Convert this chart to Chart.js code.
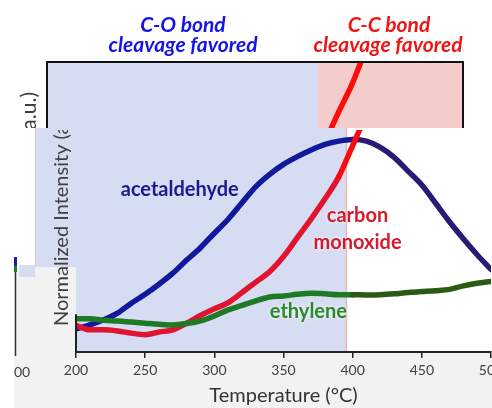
<!DOCTYPE html>
<html><head><meta charset="utf-8">
<script src="https://cdn.jsdelivr.net/npm/chart.js@4.4.1/dist/chart.umd.min.js"></script>
<style>
html,body{margin:0;padding:0;background:#fff;}
#wrap{position:relative;width:492px;height:408px;overflow:hidden;background:#fff;}
#front{position:absolute;left:0;top:0;}
#backWrap{position:absolute;left:0;top:0;width:492px;height:128px;overflow:hidden;}
</style></head><body>
<div id="wrap">
<canvas id="front" width="492" height="408"></canvas>
<div id="backWrap"><canvas id="back" width="492" height="408"></canvas></div>
</div>
<script>
// ---- data ----
const temperatures = [200,210,220,230,240,250,260,270,280,290,300,310,320,330,340,350,360,370,380,390,400,410,420,430,440,450,460,470,480,490,500];
const acetaldehyde = [0.104,0.122,0.145,0.175,0.22,0.26,0.305,0.355,0.414,0.47,0.535,0.598,0.672,0.745,0.80,0.845,0.88,0.91,0.935,0.95,0.957,0.95,0.922,0.877,0.815,0.752,0.67,0.587,0.51,0.438,0.372];
const carbonMonoxide = [0.12,0.10,0.10,0.095,0.085,0.078,0.09,0.10,0.13,0.165,0.195,0.222,0.268,0.315,0.362,0.43,0.515,0.6,0.69,0.79,0.93,1.07,1.2,1.36,null,null,null,null,null,null,null];
const ethylene = [0.15,0.15,0.143,0.14,0.135,0.13,0.125,0.122,0.128,0.14,0.162,0.19,0.21,0.23,0.248,0.252,0.26,0.265,0.262,0.258,0.258,0.257,0.258,0.262,0.268,0.272,0.276,0.282,0.298,0.31,0.318];
const xTickValues = [200,250,300,350,400,450,500];
const splitTemperature = 395.5;
const seriesNames = ['acetaldehyde','carbon monoxide','ethylene'];
const regimeTitles = [['C-O bond','cleavage favored'],['C-C bond','cleavage favored']];
const xTitle = 'Temperature (\u00B0C)';
const yTitle = 'Normalized Intensity (a.u.)';

// ---- styles ----
const BLUE_BG = '#d6dcf2', PINK_BG = '#f4cccc', GRAY = '#f2f2f2';
const pts = arr => temperatures.map((t,i)=>({x:t,y:arr[i]}));
const seg = (c1, c2, at) => ({ borderColor: c => (c.p0.parsed.x >= at ? c2 : c1) });

const frontBg = {
  id:'frontBg',
  beforeDraw(chart){
    const {ctx, chartArea:a, scales:{x}} = chart;
    ctx.save();
    ctx.fillStyle='#fff'; ctx.fillRect(0,0,492,408);
    ctx.fillStyle=GRAY; ctx.fillRect(14,267,478,141);
    ctx.fillStyle=BLUE_BG; ctx.fillRect(35,128,41,139);
    ctx.fillRect(19,265,16,12);
    const sx = x.getPixelForValue(splitTemperature);
    ctx.fillStyle=BLUE_BG; ctx.fillRect(a.left,128,sx-a.left,a.bottom-128);
    ctx.fillStyle='#fff'; ctx.fillRect(sx,128,a.right-sx+2,a.bottom-128);
    ctx.strokeStyle='#f0b4b4'; ctx.lineWidth=1.5;
    ctx.beginPath(); ctx.moveTo(sx,128); ctx.lineTo(sx,a.bottom); ctx.stroke();
    ctx.strokeStyle='#e6c6d2'; ctx.lineWidth=1;
    ctx.beginPath(); ctx.moveTo(35.5,128); ctx.lineTo(35.5,267); ctx.stroke();
    // partial neighbouring panel at far left
    ctx.strokeStyle='#333'; ctx.lineWidth=1.5;
    ctx.beginPath(); ctx.moveTo(15.5,257); ctx.lineTo(15.5,356); ctx.stroke();
    ctx.fillStyle='#1a22a0'; ctx.fillRect(14,257,3,9);
    ctx.fillStyle='#1f7a26'; ctx.fillRect(14,266,3,6);
    ctx.restore();
  },
  afterDraw(chart){
    const {ctx, chartArea:a, scales:{x,y}} = chart;
    ctx.save();
    ctx.strokeStyle='#222'; ctx.lineWidth=2;
    ctx.beginPath(); ctx.moveTo(a.left, y.getPixelForValue(0.17)); ctx.lineTo(a.left, a.bottom+1); ctx.stroke();
    ctx.textAlign='center'; ctx.textBaseline='middle';
    ctx.font='bold 20px Lato';
    ctx.fillStyle='#1a1a8e';
    ctx.fillText(seriesNames[0], x.getPixelForValue(275), y.getPixelForValue(0.73));
    ctx.shadowColor='rgba(255,255,255,0.95)'; ctx.shadowBlur=4;
    ctx.fillStyle='#d41a2c';
    const cx = x.getPixelForValue(403.5), cy = y.getPixelForValue(0.613);
    const parts = seriesNames[1].split(' ');
    ctx.fillText(parts[0], cx, cy);
    ctx.fillText(parts[1], cx, cy+27);
    ctx.fillStyle='#2a8a2a';
    ctx.fillText(seriesNames[2], x.getPixelForValue(368), y.getPixelForValue(0.18));
    ctx.shadowBlur=0;
    // y title (upper part hidden behind the top panel)
    ctx.save();
    ctx.beginPath(); ctx.rect(0,130,492,278); ctx.clip();
    ctx.translate(62,326); ctx.rotate(-Math.PI/2);
    ctx.font='20px Lato'; ctx.fillStyle='#404040'; ctx.textAlign='left';
    ctx.fillText(yTitle,0,0);
    ctx.restore();
    ctx.font='14px Lato'; ctx.fillStyle='#404040'; ctx.textAlign='left';
    ctx.fillText('00',14,372);
    ctx.restore();
  }
};

new Chart(document.getElementById('front'), {
  type:'line',
  data:{datasets:[
    {label:seriesNames[2], data:pts(ethylene), borderColor:'#1f7a26', segment:seg('#1f7a26','#2d5a12',splitTemperature), order:0},
    {label:seriesNames[1], data:pts(carbonMonoxide), borderColor:'#e0142e', segment:seg('#e0142e','#f80a12',385), order:1},
    {label:seriesNames[0], data:pts(acetaldehyde), borderColor:'#10199c', segment:seg('#10199c','#2a1a78',splitTemperature), order:2}
  ]},
  options:{
    responsive:false, animation:false,
    layout:{padding:{left:76,top:130,right:1,bottom:0}},
    elements:{point:{radius:0}, line:{borderWidth:5.5, tension:0.4, cubicInterpolationMode:'monotone', borderCapStyle:'round', borderJoinStyle:'round'}},
    plugins:{legend:{display:false}, tooltip:{enabled:false}},
    scales:{
      x:{type:'linear', min:200, max:500,
        afterBuildTicks:s=>{s.ticks = xTickValues.map(v=>({value:v}));},
        afterFit:s=>{s.height=56; s.paddingLeft=0; s.paddingRight=0;},
        grid:{display:true, drawOnChartArea:false, drawTicks:true, tickLength:6, color:'#222', lineWidth:1.5},
        border:{display:true, color:'#222', width:2},
        ticks:{font:{family:'Lato', size:14}, color:'#404040', padding:4, maxRotation:0, autoSkip:false},
        title:{display:true, text:xTitle, font:{family:'Lato', size:20}, color:'#333', padding:{top:3,bottom:0}}
      },
      y:{display:false, min:0, max:1}
    }
  },
  plugins:[frontBg]
});

const backDeco = {
  id:'backDeco',
  beforeDraw(chart){
    const {ctx, chartArea:a, scales:{x}} = chart;
    const sx = x.getPixelForValue(splitTemperature);
    ctx.save();
    ctx.fillStyle=BLUE_BG; ctx.fillRect(a.left,a.top,sx-a.left,a.bottom-a.top);
    ctx.fillStyle=PINK_BG; ctx.fillRect(sx,a.top,a.right-sx,a.bottom-a.top);
    ctx.restore();
  },
  afterDraw(chart){
    const {ctx, chartArea:a} = chart;
    ctx.save();
    ctx.strokeStyle='#111'; ctx.lineWidth=2;
    ctx.strokeRect(a.left,a.top,a.right-a.left,a.bottom-a.top);
    ctx.translate(29,92); ctx.rotate(-Math.PI/2);
    ctx.font='21px Lato'; ctx.fillStyle='#404040'; ctx.textAlign='right'; ctx.textBaseline='middle';
    ctx.fillText(yTitle,0,0);
    ctx.restore();
    ctx.save();
    ctx.font='italic bold 21px Lato'; ctx.textAlign='center'; ctx.textBaseline='middle';
    ctx.fillStyle='#1414e6';
    ctx.fillText(regimeTitles[0][0],183,25); ctx.fillText(regimeTitles[0][1],183,45);
    ctx.fillStyle='#f01414';
    ctx.fillText(regimeTitles[1][0],389,25); ctx.fillText(regimeTitles[1][1],388,45);
    ctx.restore();
  }
};

new Chart(document.getElementById('back'), {
  type:'line',
  data:{datasets:[
    {label:seriesNames[2], data:pts(ethylene), borderColor:'#1f7a26', order:0},
    {label:seriesNames[1], data:pts(carbonMonoxide), borderColor:'#ff0a0a', order:1},
    {label:seriesNames[0], data:pts(acetaldehyde), borderColor:'#10199c', order:2}
  ]},
  options:{
    responsive:false, animation:false,
    layout:{padding:{left:47,top:62,right:29,bottom:58}},
    elements:{point:{radius:0}, line:{borderWidth:5.5, tension:0.4, cubicInterpolationMode:'monotone'}},
    plugins:{legend:{display:false}, tooltip:{enabled:false}},
    scales:{
      x:{type:'linear', display:false, min:200, max:500},
      y:{display:false, min:0, max:1.3}
    }
  },
  plugins:[backDeco]
});
</script>
</body></html>
